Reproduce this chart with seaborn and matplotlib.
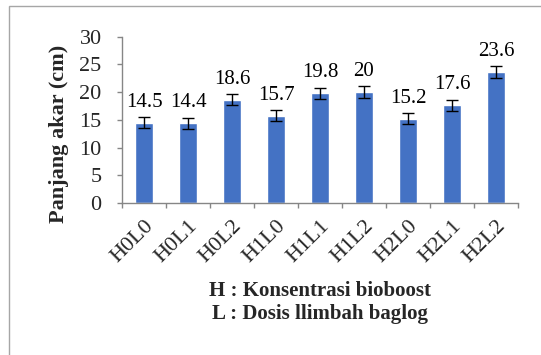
import matplotlib
matplotlib.use("Agg")
import matplotlib.pyplot as plt
import seaborn as sns
import pandas as pd
from matplotlib.patches import Rectangle
from matplotlib.ticker import FixedLocator, NullFormatter

categories = ["H0L0", "H0L1", "H0L2", "H1L0", "H1L1", "H1L2", "H2L0", "H2L1", "H2L2"]
values = [14.5, 14.4, 18.6, 15.7, 19.8, 20, 15.2, 17.6, 23.6]
errors = [1.0, 1.0, 1.0, 1.0, 1.0, 1.0, 1.0, 1.0, 1.0]
value_labels = ["14.5", "14.4", "18.6", "15.7", "19.8", "20", "15.2", "17.6", "23.6"]
y_ticks = [0, 5, 10, 15, 20, 25, 30]

sns.set_style("white")
plt.rcParams['font.family'] = ['Liberation Serif', 'DejaVu Serif']

df = pd.DataFrame({"cat": categories, "val": values})

fig = plt.figure(figsize=(5.41, 3.55), dpi=100)
ax = fig.add_axes([122/541, (355-203)/355, (518-122)/541, (203-36.5)/355])

sns.barplot(data=df, x="cat", y="val", color="#4472C4", width=0.40, ax=ax,
            saturation=1, errorbar=None)
ax.errorbar(range(len(categories)), values, yerr=errors, fmt="none",
            ecolor="black", elinewidth=1.0, capsize=4, capthick=1.0)

for i, (v, lab) in enumerate(zip(values, value_labels)):
    ax.annotate(lab, (i, v), xytext=(0, 11.5), textcoords="offset points",
                ha="center", va="baseline", fontsize=15, color="black")

ax.set_ylim(0, 30)
ax.set_xlim(-0.5, len(categories) - 0.5)
ax.set_yticks(y_ticks)
ax.set_yticklabels([str(t) for t in y_ticks], fontsize=16)
ax.set_xticks(range(len(categories)))
ax.set_xticklabels(categories, fontsize=16, rotation=45, ha="right",
                   rotation_mode="anchor")
ax.tick_params(axis="x", which="major", length=0, pad=10)
ax.xaxis.set_minor_locator(FixedLocator([i - 0.5 for i in range(len(categories) + 1)]))
ax.xaxis.set_minor_formatter(NullFormatter())
ax.tick_params(axis="x", which="minor", length=3.6, width=1, color="#868686", direction="out", bottom=True)
ax.tick_params(axis="y", length=3.6, width=1, color="#868686", direction="out", left=True, pad=11)
ax.set_xlabel("")
ax.set_ylabel("")
for s in ["top", "right"]:
    ax.spines[s].set_visible(False)
for s in ["left", "bottom"]:
    ax.spines[s].set_color("#868686")
    ax.spines[s].set_linewidth(1)

fig.text(59/541, (355-134)/355, "Panjang akar (cm)", rotation=90, ha="center",
         va="center", fontsize=16, fontweight="bold")
fig.text(320/541, (355-296)/355, "H : Konsentrasi bioboost", ha="center",
         va="baseline", fontsize=15, fontweight="bold")
fig.text(320/541, (355-319)/355, "L : Dosis llimbah baglog", ha="center",
         va="baseline", fontsize=15, fontweight="bold")

fig.patches.append(Rectangle((8.5/541, -0.1), 1.2, (355-6.5)/355 + 0.1,
                             transform=fig.transFigure, fill=False,
                             edgecolor="#a6a6a6", linewidth=1))

fig.savefig("out.png", dpi=100)
